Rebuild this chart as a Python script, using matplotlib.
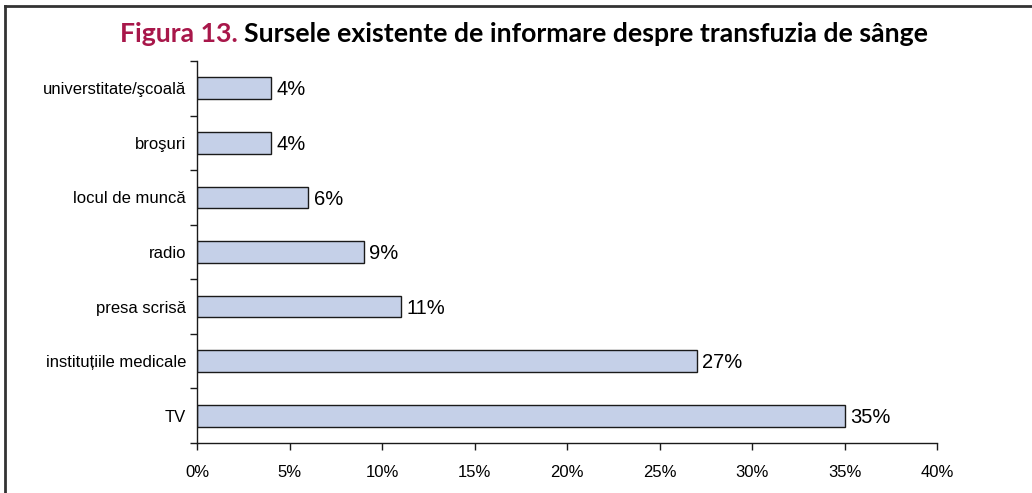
import matplotlib.pyplot as plt
from matplotlib.lines import Line2D
import numpy as np

categories = ['TV', 'instituțiile medicale', 'presa scrisă', 'radio',
              'locul de muncă', 'broşuri', 'universtitate/şcoală']
values = [35, 27, 11, 9, 6, 4, 4]
xticks = [0, 5, 10, 15, 20, 25, 30, 35, 40]

plt.rcParams['font.family'] = ['Liberation Sans', 'DejaVu Sans']

fig = plt.figure(figsize=(10.32, 4.93), dpi=100)
ax = fig.add_axes([0.1909, 0.1014, 0.7171, 0.7749])

y = np.arange(len(categories))
ax.barh(y, values, height=0.4, color='#c5d0e8', edgecolor='#1a1a1a', linewidth=1.0)
for yi, v in zip(y, values):
    ax.text(v + 0.3, yi - 0.03, f'{v}%', va='center', ha='left', fontsize=14.5)

ax.set_xlim(0, 40)
ax.set_ylim(-0.5, len(categories) - 0.5)
ax.set_xticks(xticks)
ax.set_xticklabels([f'{t}%' for t in xticks], fontsize=12)
ax.set_yticks(y)
ax.set_yticklabels(categories, fontsize=12)
ax.tick_params(axis='y', length=0, pad=8)
ax.set_yticks(np.arange(-0.5, len(categories)), minor=True)
ax.tick_params(axis='y', which='minor', length=5, width=1, color='#1a1a1a')
ax.tick_params(axis='x', length=5, width=1, color='#1a1a1a', pad=11)
for s in ['top', 'right']:
    ax.spines[s].set_visible(False)
for s in ['left', 'bottom']:
    ax.spines[s].set_color('#1a1a1a')
    ax.spines[s].set_linewidth(1.0)

# frame around the figure (top and left edges visible)
fig.add_artist(Line2D([5 / 1032, 1.0], [1 - 6 / 493] * 2, color='#333333', lw=2))
fig.add_artist(Line2D([5 / 1032] * 2, [0, 1 - 6 / 493], color='#333333', lw=2))

# title in two colours
fig.canvas.draw()
r = fig.canvas.get_renderer()
t1 = fig.text(0, 0.932, 'Figura 13.', fontsize=19.2, fontweight='bold',
              color='#a8174a', family=['Lato', 'DejaVu Sans'], va='center')
t2 = fig.text(0, 0.932, 'Sursele existente de informare despre transfuzia de sânge',
              fontsize=19.2, fontweight='bold', color='black',
              family=['Lato', 'DejaVu Sans'], va='center')
w1 = t1.get_window_extent(r).width
w2 = t2.get_window_extent(r).width
gap = 6
total = w1 + gap + w2
cx = 524
x0 = cx - total / 2
t1.set_x(x0 / 1032)
t2.set_x((x0 + w1 + gap) / 1032)

fig.savefig('out.png', dpi=100)
